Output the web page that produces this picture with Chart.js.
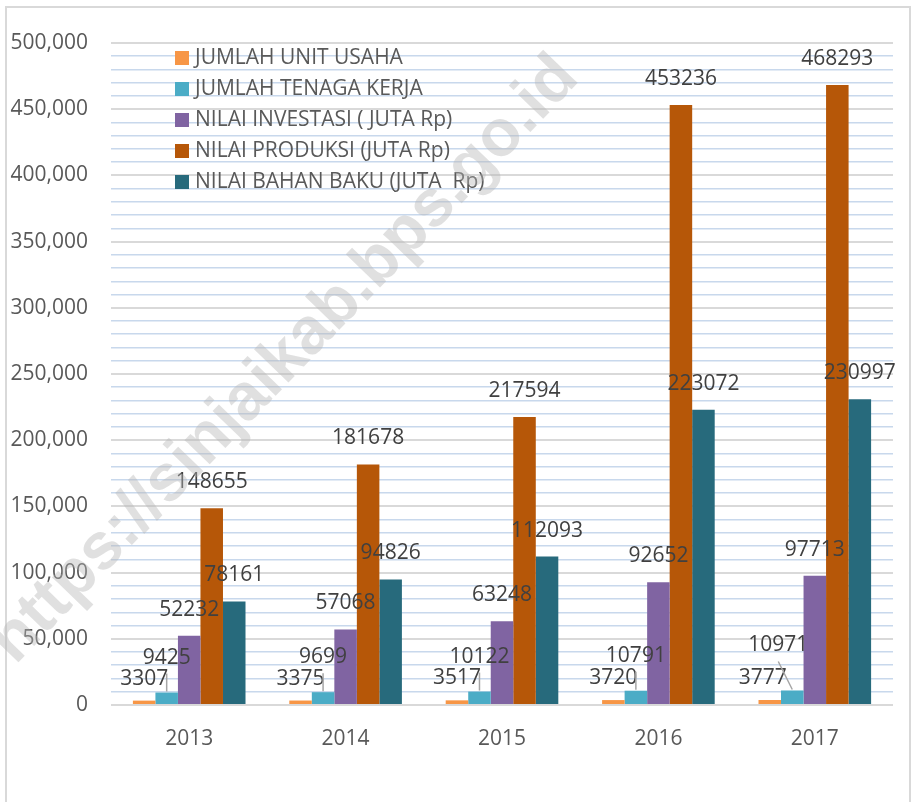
<!DOCTYPE html>
<html>
<head>
<meta charset="utf-8">
<script src="https://cdn.jsdelivr.net/npm/chart.js@4.4.1/dist/chart.umd.min.js"></script>
<style>
  html, body { margin: 0; padding: 0; background: #ffffff; }
  #wrap { position: relative; width: 915px; height: 802px; }
</style>
</head>
<body>
<div id="wrap"><canvas id="c" width="915" height="802"></canvas></div>
<script>
// ---- data ----
const years = ['2013', '2014', '2015', '2016', '2017'];
const unitUsaha   = [3307, 3375, 3517, 3720, 3777];
const tenagaKerja = [9425, 9699, 10122, 10791, 10971];
const investasi   = [52232, 57068, 63248, 92652, 97713];
const produksi    = [148655, 181678, 217594, 453236, 468293];
const bahanBaku   = [78161, 94826, 112093, 223072, 230997];
const seriesNames = [
  'JUMLAH UNIT USAHA',
  'JUMLAH TENAGA KERJA',
  'NILAI INVESTASI ( JUTA Rp)',
  'NILAI PRODUKSI (JUTA Rp)',
  'NILAI BAHAN BAKU (JUTA  Rp)'
];
const yMax = 500000;
const yMinorStep = 10000;
const yLabelStep = 50000;

// ---- style ----
const colors = ['#F79646', '#4BACC6', '#8064A2', '#B65708', '#276A7C'];
const FONT = "'Open Sans', 'Liberation Sans', Arial, sans-serif";
const labelLift = [22, 35, 26, 26, 26];           // px above bar top (label centre)
const labelNudge = { '0-4': { dx: -7 }, '1-4': { dx: -14, lift: 45 } };
const leaderSeries = 1;

function fmt(v) { return String(v).replace(/\B(?=(\d{3})+(?!\d))/g, ','); }

const series = [unitUsaha, tenagaKerja, investasi, produksi, bahanBaku];

const decorPlugin = {
  id: 'decor',
  beforeDraw(chart) {
    const ctx = chart.ctx;
    ctx.save();
    ctx.fillStyle = '#ffffff';
    ctx.fillRect(0, 0, chart.width, chart.height);
    ctx.strokeStyle = '#d9d9d9';
    ctx.lineWidth = 2;
    ctx.strokeRect(6, 7, 904, 830);
    ctx.restore();
  },
  afterDatasetsDraw(chart) {
    const ctx = chart.ctx;
    ctx.save();
    // data labels
    ctx.font = '21px ' + FONT;
    ctx.textAlign = 'center';
    ctx.textBaseline = 'middle';
    chart.data.datasets.forEach((ds, di) => {
      const meta = chart.getDatasetMeta(di);
      meta.data.forEach((bar, i) => {
        const n = labelNudge[di + '-' + i] || {};
        const lift = n.lift !== undefined ? n.lift : labelLift[di];
        const lx = bar.x + (n.dx || 0);
        const ly = bar.y - lift;
        if (di === leaderSeries) {
          ctx.strokeStyle = '#a6a6a6';
          ctx.lineWidth = 1.5;
          ctx.beginPath();
          ctx.moveTo(lx, ly + 16);
          ctx.lineTo(bar.x, bar.y - 1);
          ctx.stroke();
        }
        ctx.fillStyle = '#404040';
        ctx.fillText(String(ds.data[i]), lx, ly);
      });
    });
    // legend
    ctx.font = '21px ' + FONT;
    ctx.textAlign = 'left';
    ctx.textBaseline = 'middle';
    chart.data.datasets.forEach((ds, di) => {
      const y = 58 + di * 31;
      ctx.fillStyle = ds.backgroundColor;
      ctx.fillRect(175, y - 7, 14, 14);
      ctx.fillStyle = '#595959';
      ctx.fillText(ds.label, 195, y);
    });
    ctx.restore();
  },
  afterDraw(chart) {
    const ctx = chart.ctx;
    ctx.save();
    ctx.translate(285, 360);
    ctx.rotate(-46 * Math.PI / 180);
    ctx.font = 'bold 66px ' + "'Liberation Sans', Arial, sans-serif";
    ctx.textAlign = 'center';
    ctx.textBaseline = 'middle';
    ctx.fillStyle = 'rgba(180,180,180,0.42)';
    ctx.fillText('https://sinjaikab.bps.go.id', 0, 0);
    ctx.restore();
  }
};

new Chart(document.getElementById('c'), {
  type: 'bar',
  data: {
    labels: years,
    datasets: series.map((d, i) => ({
      label: seriesNames[i],
      data: d,
      backgroundColor: colors[i],
      borderWidth: 0,
      categoryPercentage: 0.72,
      barPercentage: 1.0
    }))
  },
  options: {
    responsive: false,
    animation: false,
    devicePixelRatio: 1,
    layout: { padding: { left: 0, right: 22, top: 43, bottom: 0 } },
    plugins: { legend: { display: false }, tooltip: { enabled: false } },
    scales: {
      x: {
        grid: { display: false },
        border: { display: false },
        ticks: { color: '#595959', font: { family: FONT, size: 21 }, padding: 13 },
        afterFit(scale) { scale.height = 97; }
      },
      y: {
        min: 0,
        max: yMax,
        border: { display: false },
        grid: {
          drawTicks: false,
          color: (c) => (c.tick && c.tick.value % yLabelStep === 0) ? '#d9d9d9' : '#c8d8ec',
          lineWidth: (c) => (c.tick && c.tick.value % yLabelStep === 0) ? 2 : 1.6
        },
        ticks: {
          stepSize: yMinorStep,
          maxTicksLimit: 100,
          autoSkip: false,
          color: '#595959',
          font: { family: FONT, size: 21 },
          padding: 23,
          callback: (v) => (v % yLabelStep === 0) ? fmt(v) : ''
        },
        afterFit(scale) { scale.width = 111; }
      }
    }
  },
  plugins: [decorPlugin]
});
</script>
</body>
</html>
